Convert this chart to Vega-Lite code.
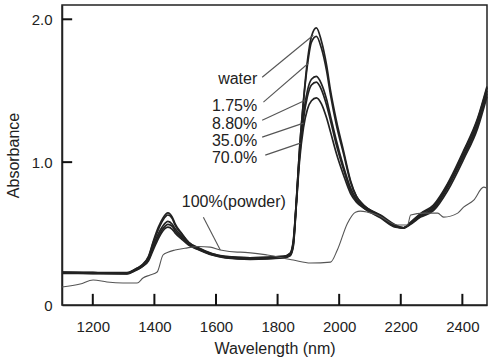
{
  "$schema": "https://vega.github.io/schema/vega-lite/v6.json",
  "width": 425,
  "height": 300,
  "autosize": "none",
  "padding": {"left": 62, "top": 5, "right": 5, "bottom": 57},
  "background": "white",
  "config": {
    "view": {"stroke": "#222", "strokeWidth": 1.5},
    "font": "Liberation Sans"
  },
  "datasets": {
    "curves": [
      {"s":"water","wl":1100,"a":0.231},{"s":"water","wl":1200,"a":0.228},{"s":"water","wl":1311,"a":0.226},{"s":"water","wl":1337,"a":0.25},{"s":"water","wl":1359,"a":0.28},{"s":"water","wl":1381,"a":0.34},{"s":"water","wl":1397,"a":0.45},{"s":"water","wl":1413,"a":0.545},{"s":"water","wl":1428,"a":0.61},{"s":"water","wl":1444,"a":0.645},{"s":"water","wl":1458,"a":0.615},{"s":"water","wl":1467,"a":0.57},{"s":"water","wl":1489,"a":0.5},{"s":"water","wl":1511,"a":0.44},{"s":"water","wl":1543,"a":0.4},{"s":"water","wl":1587,"a":0.36},{"s":"water","wl":1630,"a":0.34},{"s":"water","wl":1711,"a":0.33},{"s":"water","wl":1819,"a":0.34},{"s":"water","wl":1841,"a":0.364},{"s":"water","wl":1851,"a":0.45},{"s":"water","wl":1861,"a":0.73},{"s":"water","wl":1871,"a":1.08},{"s":"water","wl":1884,"a":1.43},{"s":"water","wl":1897,"a":1.71},{"s":"water","wl":1910,"a":1.88},{"s":"water","wl":1926,"a":1.94},{"s":"water","wl":1942,"a":1.85},{"s":"water","wl":1959,"a":1.68},{"s":"water","wl":1972,"a":1.5},{"s":"water","wl":1991,"a":1.29},{"s":"water","wl":2014,"a":1.08},{"s":"water","wl":2037,"a":0.87},{"s":"water","wl":2056,"a":0.76},{"s":"water","wl":2079,"a":0.7},{"s":"water","wl":2134,"a":0.63},{"s":"water","wl":2183,"a":0.56},{"s":"water","wl":2209,"a":0.54},{"s":"water","wl":2232,"a":0.58},{"s":"water","wl":2264,"a":0.64},{"s":"water","wl":2306,"a":0.7},{"s":"water","wl":2352,"a":0.85},{"s":"water","wl":2404,"a":1.08},{"s":"water","wl":2450,"a":1.31},{"s":"water","wl":2480,"a":1.53},

      {"s":"1.75%","wl":1100,"a":0.229},{"s":"1.75%","wl":1200,"a":0.226},{"s":"1.75%","wl":1311,"a":0.224},{"s":"1.75%","wl":1337,"a":0.248},{"s":"1.75%","wl":1359,"a":0.277},{"s":"1.75%","wl":1381,"a":0.335},{"s":"1.75%","wl":1397,"a":0.44},{"s":"1.75%","wl":1413,"a":0.53},{"s":"1.75%","wl":1428,"a":0.595},{"s":"1.75%","wl":1444,"a":0.63},{"s":"1.75%","wl":1458,"a":0.605},{"s":"1.75%","wl":1467,"a":0.56},{"s":"1.75%","wl":1489,"a":0.495},{"s":"1.75%","wl":1511,"a":0.437},{"s":"1.75%","wl":1543,"a":0.398},{"s":"1.75%","wl":1587,"a":0.358},{"s":"1.75%","wl":1630,"a":0.338},{"s":"1.75%","wl":1711,"a":0.33},{"s":"1.75%","wl":1819,"a":0.34},{"s":"1.75%","wl":1841,"a":0.36},{"s":"1.75%","wl":1851,"a":0.44},{"s":"1.75%","wl":1861,"a":0.73},{"s":"1.75%","wl":1871,"a":1.08},{"s":"1.75%","wl":1884,"a":1.42},{"s":"1.75%","wl":1897,"a":1.68},{"s":"1.75%","wl":1910,"a":1.84},{"s":"1.75%","wl":1926,"a":1.88},{"s":"1.75%","wl":1942,"a":1.8},{"s":"1.75%","wl":1959,"a":1.64},{"s":"1.75%","wl":1972,"a":1.47},{"s":"1.75%","wl":1991,"a":1.26},{"s":"1.75%","wl":2014,"a":1.06},{"s":"1.75%","wl":2037,"a":0.86},{"s":"1.75%","wl":2056,"a":0.76},{"s":"1.75%","wl":2079,"a":0.7},{"s":"1.75%","wl":2134,"a":0.625},{"s":"1.75%","wl":2183,"a":0.555},{"s":"1.75%","wl":2209,"a":0.54},{"s":"1.75%","wl":2232,"a":0.575},{"s":"1.75%","wl":2264,"a":0.635},{"s":"1.75%","wl":2306,"a":0.69},{"s":"1.75%","wl":2352,"a":0.84},{"s":"1.75%","wl":2404,"a":1.07},{"s":"1.75%","wl":2450,"a":1.3},{"s":"1.75%","wl":2480,"a":1.52},

      {"s":"8.80%","wl":1100,"a":0.227},{"s":"8.80%","wl":1200,"a":0.224},{"s":"8.80%","wl":1311,"a":0.222},{"s":"8.80%","wl":1337,"a":0.245},{"s":"8.80%","wl":1359,"a":0.272},{"s":"8.80%","wl":1381,"a":0.325},{"s":"8.80%","wl":1397,"a":0.42},{"s":"8.80%","wl":1413,"a":0.5},{"s":"8.80%","wl":1428,"a":0.555},{"s":"8.80%","wl":1444,"a":0.585},{"s":"8.80%","wl":1458,"a":0.565},{"s":"8.80%","wl":1467,"a":0.535},{"s":"8.80%","wl":1489,"a":0.48},{"s":"8.80%","wl":1511,"a":0.43},{"s":"8.80%","wl":1543,"a":0.393},{"s":"8.80%","wl":1587,"a":0.355},{"s":"8.80%","wl":1630,"a":0.335},{"s":"8.80%","wl":1711,"a":0.325},{"s":"8.80%","wl":1819,"a":0.335},{"s":"8.80%","wl":1841,"a":0.355},{"s":"8.80%","wl":1851,"a":0.43},{"s":"8.80%","wl":1861,"a":0.72},{"s":"8.80%","wl":1871,"a":1.05},{"s":"8.80%","wl":1884,"a":1.33},{"s":"8.80%","wl":1897,"a":1.5},{"s":"8.80%","wl":1910,"a":1.58},{"s":"8.80%","wl":1926,"a":1.6},{"s":"8.80%","wl":1942,"a":1.55},{"s":"8.80%","wl":1959,"a":1.44},{"s":"8.80%","wl":1972,"a":1.32},{"s":"8.80%","wl":1991,"a":1.15},{"s":"8.80%","wl":2014,"a":0.97},{"s":"8.80%","wl":2037,"a":0.82},{"s":"8.80%","wl":2056,"a":0.74},{"s":"8.80%","wl":2079,"a":0.69},{"s":"8.80%","wl":2134,"a":0.62},{"s":"8.80%","wl":2183,"a":0.55},{"s":"8.80%","wl":2209,"a":0.54},{"s":"8.80%","wl":2232,"a":0.57},{"s":"8.80%","wl":2264,"a":0.625},{"s":"8.80%","wl":2306,"a":0.68},{"s":"8.80%","wl":2352,"a":0.83},{"s":"8.80%","wl":2404,"a":1.05},{"s":"8.80%","wl":2450,"a":1.28},{"s":"8.80%","wl":2480,"a":1.5},

      {"s":"35.0%","wl":1100,"a":0.225},{"s":"35.0%","wl":1200,"a":0.222},{"s":"35.0%","wl":1311,"a":0.22},{"s":"35.0%","wl":1337,"a":0.242},{"s":"35.0%","wl":1359,"a":0.268},{"s":"35.0%","wl":1381,"a":0.318},{"s":"35.0%","wl":1397,"a":0.405},{"s":"35.0%","wl":1413,"a":0.48},{"s":"35.0%","wl":1428,"a":0.535},{"s":"35.0%","wl":1444,"a":0.565},{"s":"35.0%","wl":1458,"a":0.55},{"s":"35.0%","wl":1467,"a":0.52},{"s":"35.0%","wl":1489,"a":0.47},{"s":"35.0%","wl":1511,"a":0.425},{"s":"35.0%","wl":1543,"a":0.39},{"s":"35.0%","wl":1587,"a":0.352},{"s":"35.0%","wl":1630,"a":0.333},{"s":"35.0%","wl":1711,"a":0.322},{"s":"35.0%","wl":1819,"a":0.332},{"s":"35.0%","wl":1841,"a":0.35},{"s":"35.0%","wl":1851,"a":0.42},{"s":"35.0%","wl":1861,"a":0.71},{"s":"35.0%","wl":1871,"a":1.03},{"s":"35.0%","wl":1884,"a":1.3},{"s":"35.0%","wl":1897,"a":1.46},{"s":"35.0%","wl":1910,"a":1.54},{"s":"35.0%","wl":1926,"a":1.56},{"s":"35.0%","wl":1942,"a":1.51},{"s":"35.0%","wl":1959,"a":1.4},{"s":"35.0%","wl":1972,"a":1.29},{"s":"35.0%","wl":1991,"a":1.12},{"s":"35.0%","wl":2014,"a":0.95},{"s":"35.0%","wl":2037,"a":0.8},{"s":"35.0%","wl":2056,"a":0.73},{"s":"35.0%","wl":2079,"a":0.68},{"s":"35.0%","wl":2134,"a":0.615},{"s":"35.0%","wl":2183,"a":0.548},{"s":"35.0%","wl":2209,"a":0.54},{"s":"35.0%","wl":2232,"a":0.57},{"s":"35.0%","wl":2264,"a":0.62},{"s":"35.0%","wl":2306,"a":0.67},{"s":"35.0%","wl":2352,"a":0.82},{"s":"35.0%","wl":2404,"a":1.04},{"s":"35.0%","wl":2450,"a":1.26},{"s":"35.0%","wl":2480,"a":1.48},

      {"s":"70.0%","wl":1100,"a":0.222},{"s":"70.0%","wl":1200,"a":0.22},{"s":"70.0%","wl":1311,"a":0.218},{"s":"70.0%","wl":1337,"a":0.24},{"s":"70.0%","wl":1359,"a":0.265},{"s":"70.0%","wl":1381,"a":0.31},{"s":"70.0%","wl":1397,"a":0.39},{"s":"70.0%","wl":1413,"a":0.465},{"s":"70.0%","wl":1428,"a":0.52},{"s":"70.0%","wl":1444,"a":0.545},{"s":"70.0%","wl":1458,"a":0.53},{"s":"70.0%","wl":1467,"a":0.505},{"s":"70.0%","wl":1489,"a":0.46},{"s":"70.0%","wl":1511,"a":0.42},{"s":"70.0%","wl":1543,"a":0.387},{"s":"70.0%","wl":1587,"a":0.35},{"s":"70.0%","wl":1630,"a":0.33},{"s":"70.0%","wl":1711,"a":0.32},{"s":"70.0%","wl":1819,"a":0.33},{"s":"70.0%","wl":1841,"a":0.345},{"s":"70.0%","wl":1851,"a":0.41},{"s":"70.0%","wl":1861,"a":0.7},{"s":"70.0%","wl":1871,"a":1.0},{"s":"70.0%","wl":1884,"a":1.24},{"s":"70.0%","wl":1897,"a":1.37},{"s":"70.0%","wl":1910,"a":1.43},{"s":"70.0%","wl":1926,"a":1.45},{"s":"70.0%","wl":1942,"a":1.41},{"s":"70.0%","wl":1959,"a":1.31},{"s":"70.0%","wl":1972,"a":1.21},{"s":"70.0%","wl":1991,"a":1.06},{"s":"70.0%","wl":2014,"a":0.91},{"s":"70.0%","wl":2037,"a":0.78},{"s":"70.0%","wl":2056,"a":0.72},{"s":"70.0%","wl":2079,"a":0.68},{"s":"70.0%","wl":2134,"a":0.61},{"s":"70.0%","wl":2183,"a":0.545},{"s":"70.0%","wl":2209,"a":0.54},{"s":"70.0%","wl":2232,"a":0.565},{"s":"70.0%","wl":2264,"a":0.615},{"s":"70.0%","wl":2306,"a":0.66},{"s":"70.0%","wl":2352,"a":0.8},{"s":"70.0%","wl":2404,"a":1.02},{"s":"70.0%","wl":2450,"a":1.24},{"s":"70.0%","wl":2480,"a":1.46}
    ],
    "powder": [
      {"wl":1100,"a":0.126},{"wl":1159,"a":0.147},{"wl":1201,"a":0.175},{"wl":1246,"a":0.161},{"wl":1298,"a":0.154},{"wl":1344,"a":0.154},{"wl":1363,"a":0.189},{"wl":1386,"a":0.21},{"wl":1409,"a":0.231},{"wl":1428,"a":0.35},{"wl":1444,"a":0.37},{"wl":1467,"a":0.385},{"wl":1507,"a":0.4},{"wl":1543,"a":0.41},{"wl":1581,"a":0.405},{"wl":1614,"a":0.385},{"wl":1669,"a":0.37},{"wl":1679,"a":0.37},{"wl":1767,"a":0.35},{"wl":1851,"a":0.315},{"wl":1907,"a":0.294},{"wl":1972,"a":0.3},{"wl":1994,"a":0.385},{"wl":2027,"a":0.573},{"wl":2053,"a":0.65},{"wl":2069,"a":0.657},{"wl":2092,"a":0.65},{"wl":2124,"a":0.63},{"wl":2189,"a":0.56},{"wl":2222,"a":0.56},{"wl":2232,"a":0.63},{"wl":2274,"a":0.643},{"wl":2320,"a":0.643},{"wl":2339,"a":0.615},{"wl":2385,"a":0.643},{"wl":2404,"a":0.685},{"wl":2437,"a":0.734},{"wl":2469,"a":0.825},{"wl":2480,"a":0.818}
    ],
    "leaders": [
      {"x1":1750,"y1":1.594,"x2":1916,"y2":1.888},
      {"x1":1754,"y1":1.42,"x2":1900,"y2":1.692},
      {"x1":1750,"y1":1.294,"x2":1890,"y2":1.434},
      {"x1":1750,"y1":1.175,"x2":1884,"y2":1.273},
      {"x1":1760,"y1":1.049,"x2":1874,"y2":1.133},
      {"x1":1559,"y1":0.615,"x2":1614,"y2":0.385}
    ],
    "ticks": [
      {"x1":1200,"y1":0,"x2":1200,"y2":0.078},
      {"x1":1400,"y1":0,"x2":1400,"y2":0.078},
      {"x1":1600,"y1":0,"x2":1600,"y2":0.078},
      {"x1":1800,"y1":0,"x2":1800,"y2":0.078},
      {"x1":2000,"y1":0,"x2":2000,"y2":0.078},
      {"x1":2200,"y1":0,"x2":2200,"y2":0.078},
      {"x1":2400,"y1":0,"x2":2400,"y2":0.078},
      {"x1":1100,"y1":1,"x2":1133,"y2":1},
      {"x1":1100,"y1":2,"x2":1133,"y2":2}
    ],
    "rlabels": [
      {"t":"water","wl":1734,"a":1.58},
      {"t":"1.75%","wl":1734,"a":1.392},
      {"t":"8.80%","wl":1734,"a":1.266},
      {"t":"35.0%","wl":1734,"a":1.147},
      {"t":"70.0%","wl":1734,"a":1.028}
    ],
    "clabels": [
      {"t":"100%(powder)","wl":1658,"a":0.72}
    ]
  },
  "layer": [
    {
      "data": {"name": "curves"},
      "mark": {"type": "line", "interpolate": "monotone", "color": "#222", "strokeWidth": 1.7},
      "encoding": {
        "x": {"field": "wl", "type": "quantitative", "scale": {"domain": [1100, 2480], "nice": false, "zero": false},
          "axis": {"values": [1200,1400,1600,1800,2000,2200,2400], "format": "d", "title": "Wavelength (nm)", "grid": false,
            "ticks": false, "domainColor": "#222", "domainWidth": 1.5,
            "labelFontSize": 15, "labelColor": "#222", "labelPadding": 14, "labelFont": "Liberation Sans",
            "titleFontSize": 16, "titleFontWeight": "normal", "titleColor": "#222", "titlePadding": 6, "titleFont": "Liberation Sans"}},
        "y": {"field": "a", "type": "quantitative", "scale": {"domain": [0, 2.1], "nice": false},
          "axis": {"values": [0,1,2], "labelExpr": "datum.value == 0 ? '0' : format(datum.value, '.1f')", "title": "Absorbance", "grid": false,
            "ticks": false, "domainColor": "#222", "domainWidth": 1.5,
            "labelFontSize": 15, "labelColor": "#222", "labelPadding": 10, "labelFont": "Liberation Sans",
            "titleFontSize": 16, "titleFontWeight": "normal", "titleColor": "#222", "titlePadding": 10, "titleFont": "Liberation Sans"}},
        "detail": {"field": "s", "type": "nominal"}
      }
    },
    {
      "data": {"name": "powder"},
      "mark": {"type": "line", "interpolate": "monotone", "color": "#555", "strokeWidth": 1.1},
      "encoding": {
        "x": {"field": "wl", "type": "quantitative"},
        "y": {"field": "a", "type": "quantitative"}
      }
    },
    {
      "data": {"name": "leaders"},
      "mark": {"type": "rule", "color": "#555", "strokeWidth": 1.1},
      "encoding": {
        "x": {"field": "x1", "type": "quantitative"},
        "y": {"field": "y1", "type": "quantitative"},
        "x2": {"field": "x2"},
        "y2": {"field": "y2"}
      }
    },
    {
      "data": {"name": "ticks"},
      "mark": {"type": "rule", "color": "#111", "strokeWidth": 2},
      "encoding": {
        "x": {"field": "x1", "type": "quantitative"},
        "y": {"field": "y1", "type": "quantitative"},
        "x2": {"field": "x2"},
        "y2": {"field": "y2"}
      }
    },
    {
      "data": {"name": "rlabels"},
      "mark": {"type": "text", "fontSize": 16, "font": "Liberation Sans", "color": "#222", "baseline": "middle", "align": "right"},
      "encoding": {
        "x": {"field": "wl", "type": "quantitative"},
        "y": {"field": "a", "type": "quantitative"},
        "text": {"field": "t"}
      }
    },
    {
      "data": {"name": "clabels"},
      "mark": {"type": "text", "fontSize": 16, "font": "Liberation Sans", "color": "#222", "baseline": "middle", "align": "center"},
      "encoding": {
        "x": {"field": "wl", "type": "quantitative"},
        "y": {"field": "a", "type": "quantitative"},
        "text": {"field": "t"}
      }
    }
  ]
}
